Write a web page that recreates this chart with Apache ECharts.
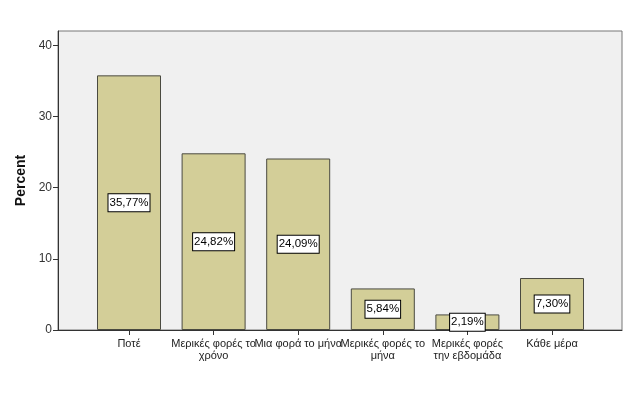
<!DOCTYPE html>
<html>
<head>
<meta charset="utf-8">
<script src="https://cdn.jsdelivr.net/npm/echarts@6/dist/echarts.min.js"></script>
<style>
  html, body { margin: 0; padding: 0; background: #fff; }
  #chart { width: 630px; height: 399px; }
</style>
</head>
<body>
<div id="chart"></div>
<script>
const categories = ['Ποτέ', 'Μερικές φορές το\nχρόνο', 'Μια φορά το μήνα', 'Μερικές φορές το\nμήνα', 'Μερικές φορές\nτην εβδομάδα', 'Κάθε μέρα']
const percents = [35.77, 24.82, 24.09, 5.84, 2.19, 7.30]
const yTicks = [0, 10, 20, 30, 40]

const chart = echarts.init(document.getElementById('chart'))

const font = 'Arial, "Liberation Sans", sans-serif'

const option = {
  animation: false,
  backgroundColor: '#fff',
  grid: [
    // frame + y axis
    { left: 58, right: 8, top: 31, bottom: 69, show: true, backgroundColor: '#f0f0f0', borderColor: '#777', borderWidth: 1 },
    // bars
    { left: 86.7, right: 35.7, top: 31, bottom: 69 }
  ],
  xAxis: [
    {
      gridIndex: 0, type: 'value', min: 0, max: 1,
      axisLine: { show: true, onZero: false, lineStyle: { color: '#333' } },
      axisTick: { show: false }, axisLabel: { show: false }, splitLine: { show: false }
    },
    {
      gridIndex: 1, type: 'category', data: categories,
      axisLine: { show: false },
      axisTick: { show: true, alignWithLabel: true, length: 5, lineStyle: { color: '#333' } },
      axisLabel: { interval: 0, color: '#222', fontFamily: font, fontSize: 11, lineHeight: 12, margin: 8 }
    }
  ],
  yAxis: [
    {
      gridIndex: 0, type: 'value', min: 0, max: 42, interval: 10,
      name: 'Percent', nameLocation: 'middle', nameGap: 29,
      nameTextStyle: { fontFamily: font, fontSize: 14, fontWeight: 'bold', color: '#111' },
      axisLine: { show: true, lineStyle: { color: '#333' } },
      axisTick: { show: true, length: 5, lineStyle: { color: '#333' }, customValues: yTicks },
      axisLabel: { color: '#333', fontFamily: font, fontSize: 12, margin: 6, customValues: yTicks },
      splitLine: { show: false }
    },
    {
      gridIndex: 1, type: 'value', min: 0, max: 42, show: false, splitLine: { show: false }
    }
  ],
  series: [
    {
      type: 'bar',
      xAxisIndex: 1, yAxisIndex: 1,
      data: percents,
      barWidth: 64,
      itemStyle: { color: '#d3ce98', borderColor: '#4a4a40', borderWidth: 1 },
      label: {
        show: true,
        position: 'inside',
        formatter: p => p.value.toFixed(2).replace('.', ',') + '%',
        fontFamily: font,
        fontSize: 11.5,
        color: '#000',
        backgroundColor: '#fff',
        borderColor: '#000',
        borderWidth: 1,
        padding: [3, 1, 2, 1]
      }
    }
  ]
}

chart.setOption(option)
</script>
</body>
</html>
